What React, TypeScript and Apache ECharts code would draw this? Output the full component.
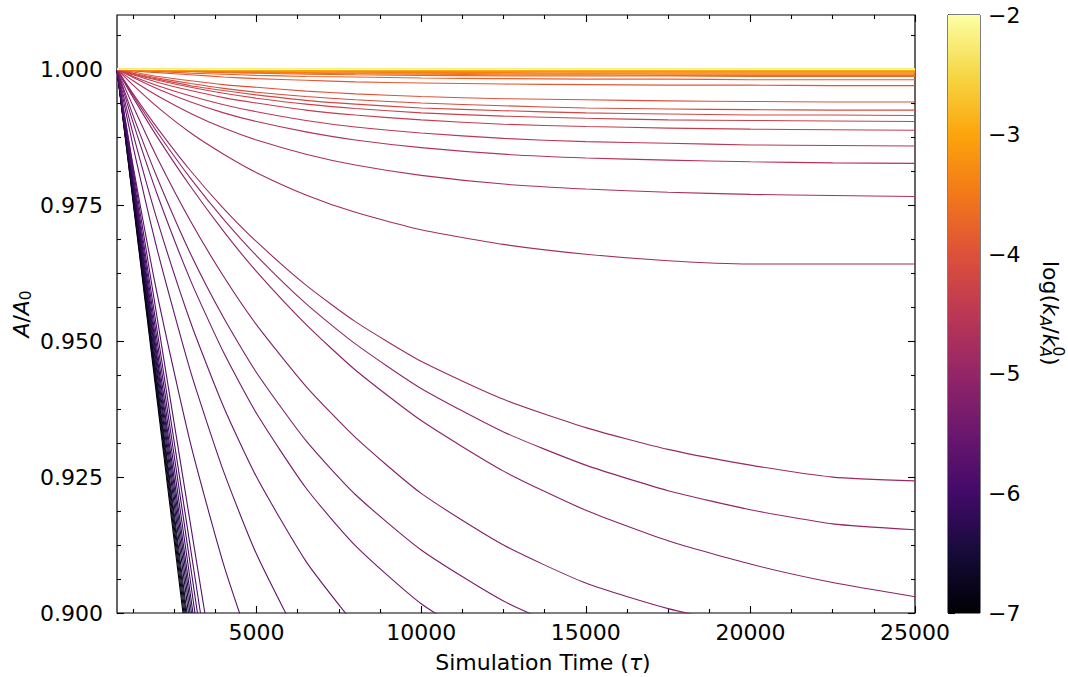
import React, { useEffect, useRef } from "react";
import * as echarts from "echarts";

// ---------------- data ----------------
const X_MIN = 760;
const X_MAX = 25000;
const Y_MIN = 0.9;
const Y_MAX = 1.01;

const timeGrid = [760, 1250, 2000, 3000, 4000, 5000, 6500, 8000, 10000, 12500, 15000, 17500, 20000, 22500, 25000];

// nearly flat curves at the top (orange to yellow)
const bandLogK = [-3.7, -3.6, -3.5, -3.4, -3.3, -3.2, -3.1, -3.0, -2.9, -2.8, -2.7, -2.6, -2.5, -2.4, -2.3, -2.2, -2.1, -2.0];
const bandValues = [
  [1.0, 0.9999, 0.9997, 0.9996, 0.9994, 0.9993, 0.9991, 0.999, 0.9989, 0.9988, 0.9988, 0.9988, 0.9987, 0.9987, 0.9987],
  [1.0, 0.9999, 0.9998, 0.9996, 0.9995, 0.9994, 0.9993, 0.9992, 0.9991, 0.999, 0.999, 0.9989, 0.9989, 0.9989, 0.9989],
  [1.0, 0.9999, 0.9998, 0.9997, 0.9996, 0.9995, 0.9994, 0.9993, 0.9993, 0.9992, 0.9992, 0.9991, 0.9991, 0.9991, 0.9991],
  [1.0, 0.9999, 0.9999, 0.9998, 0.9997, 0.9996, 0.9995, 0.9995, 0.9994, 0.9994, 0.9993, 0.9993, 0.9993, 0.9993, 0.9993],
  [1.0, 1.0, 0.9999, 0.9998, 0.9998, 0.9997, 0.9997, 0.9996, 0.9996, 0.9996, 0.9995, 0.9995, 0.9995, 0.9995, 0.9995],
  [1.0, 1.0, 0.9999, 0.9999, 0.9998, 0.9998, 0.9997, 0.9997, 0.9997, 0.9996, 0.9996, 0.9996, 0.9996, 0.9996, 0.9996],
  [1.0, 1.0, 0.9999, 0.9999, 0.9999, 0.9998, 0.9998, 0.9998, 0.9998, 0.9997, 0.9997, 0.9997, 0.9997, 0.9997, 0.9997],
  [1.0, 1.0, 1.0, 0.9999, 0.9999, 0.9999, 0.9999, 0.9999, 0.9998, 0.9998, 0.9998, 0.9998, 0.9998, 0.9998, 0.9998],
  [1.0, 1.0, 1.0, 1.0, 0.9999, 0.9999, 0.9999, 0.9999, 0.9999, 0.9999, 0.9999, 0.9999, 0.9999, 0.9999, 0.9999],
  [1.0, 1.0, 1.0, 1.0, 1.0, 1.0, 1.0, 1.0, 1.0, 1.0, 1.0, 1.0, 1.0, 1.0, 1.0],
  [1.0, 1.0, 1.0, 1.0, 1.0, 1.0, 1.0, 1.0, 1.0, 1.0, 1.0, 1.0, 1.0, 1.0, 1.0],
  [1.0, 1.0, 1.0, 1.0, 1.0, 1.0, 1.0, 1.0, 1.0, 1.0, 1.0, 1.0, 1.0, 1.0, 1.0],
  [1.0, 1.0, 1.0, 1.0, 1.0, 1.0, 1.0, 1.0, 1.0, 1.0, 1.0, 1.0, 1.0, 1.0, 1.0],
  [1.0, 1.0, 1.0, 1.0, 1.0, 1.0, 1.0, 1.0, 1.0, 1.0, 1.0, 1.0, 1.0, 1.0, 1.0],
  [1.0, 1.0, 1.0, 1.0, 1.0, 1.0, 1.0, 1.0, 1.0, 1.0, 1.0, 1.0, 1.0, 1.0, 1.0],
  [1.0, 1.0, 1.0, 1.0, 1.0, 1.0, 1.0, 1.0, 1.0, 1.0, 1.0, 1.0, 1.0, 1.0, 1.0],
  [1.0, 1.0, 1.0, 1.0, 1.0, 1.0, 1.0, 1.0, 1.0, 1.0, 1.0, 1.0, 1.0, 1.0, 1.0],
  [1.0, 1.0, 1.0, 1.0, 1.0, 1.0, 1.0, 1.0, 1.0, 1.0, 1.0, 1.0, 1.0, 1.0, 1.0],
];

// red / orange curves that level off
const upperLogK = [-3.8, -3.9, -4.0, -4.1, -4.2, -4.3, -4.4, -4.5, -4.6, -4.7, -4.8];
const upperValues = [
  [1.0, 0.9998, 0.9996, 0.9993, 0.9991, 0.9989, 0.9987, 0.9986, 0.9984, 0.9983, 0.9982, 0.9982, 0.9981, 0.9981, 0.9981],
  [1.0, 0.9997, 0.9994, 0.999, 0.9986, 0.9983, 0.998, 0.9977, 0.9975, 0.9973, 0.9972, 0.9971, 0.9971, 0.997, 0.997],
  [1.0, 0.9995, 0.9987, 0.9979, 0.9972, 0.9967, 0.996, 0.9955, 0.995, 0.9946, 0.9944, 0.9942, 0.9941, 0.994, 0.994],
  [1.0, 0.9993, 0.9984, 0.9974, 0.9965, 0.9958, 0.995, 0.9944, 0.9938, 0.9933, 0.9929, 0.9927, 0.9926, 0.9925, 0.9925],
  [1.0, 0.9992, 0.9982, 0.997, 0.9961, 0.9953, 0.9943, 0.9936, 0.9929, 0.9924, 0.992, 0.9918, 0.9916, 0.9916, 0.9915],
  [1.0, 0.9991, 0.998, 0.9967, 0.9956, 0.9947, 0.9936, 0.9928, 0.992, 0.9914, 0.991, 0.9907, 0.9906, 0.9905, 0.9904],
  [1.0, 0.999, 0.9976, 0.9961, 0.9948, 0.9938, 0.9925, 0.9916, 0.9907, 0.9899, 0.9895, 0.9892, 0.989, 0.9889, 0.9888],
  [1.0, 0.9987, 0.997, 0.9951, 0.9935, 0.9922, 0.9906, 0.9894, 0.9883, 0.9873, 0.9867, 0.9864, 0.9861, 0.986, 0.9859],
  [1.0, 0.9985, 0.9964, 0.994, 0.992, 0.9904, 0.9885, 0.987, 0.9856, 0.9844, 0.9837, 0.9833, 0.983, 0.9828, 0.9827],
  [1.0, 0.9979, 0.9951, 0.9919, 0.9892, 0.987, 0.9844, 0.9824, 0.9805, 0.9789, 0.978, 0.9774, 0.977, 0.9768, 0.9766],
  [1.0, 0.9971, 0.993, 0.9883, 0.9844, 0.981, 0.9769, 0.9737, 0.9705, 0.9678, 0.966, 0.9648, 0.9642, 0.9642, 0.9642],
];

// magenta curves that reach the right edge below 0.93
const lowerLogK = [-4.9, -5.0, -5.1];
const lowerValues = [
  [1.0, 0.9955, 0.9891, 0.9813, 0.9744, 0.9683, 0.9603, 0.9536, 0.9463, 0.9393, 0.9341, 0.9301, 0.9272, 0.925, 0.9243],
  [1.0, 0.9952, 0.9883, 0.9799, 0.9724, 0.9657, 0.9569, 0.9495, 0.9413, 0.9333, 0.9272, 0.9225, 0.919, 0.9164, 0.9153],
  [1.0, 0.9948, 0.9874, 0.9784, 0.9702, 0.9628, 0.9531, 0.9447, 0.9354, 0.9261, 0.9189, 0.9133, 0.909, 0.9056, 0.903],
];

// purple curves that leave through the bottom edge
const fallingLogK = [-5.2, -5.3, -5.4, -5.5, -5.6, -5.7];
const fallingValues = [
  [1.0, 0.9932, 0.9835, 0.972, 0.9619, 0.953, 0.9417, 0.9323, 0.922, 0.9125, 0.9055, 0.9008, 0.8975],
  [1.0, 0.9915, 0.9798, 0.966, 0.9543, 0.9442, 0.9317, 0.9218, 0.9116, 0.9022, 0.8955],
  [1.0, 0.9902, 0.9767, 0.9611, 0.9479, 0.9367, 0.923, 0.9124, 0.9017, 0.8924],
  [1.0, 0.9881, 0.9719, 0.9534, 0.9379, 0.925, 0.9095, 0.8977],
  [1.0, 0.9858, 0.9664, 0.9443, 0.926, 0.9108, 0.8927],
  [1.0, 0.9822, 0.9581, 0.931, 0.9089, 0.8908],
];

// dark, nearly straight curves: start (760, 1.0), reach 0.9 at these times
const clusterLogK = [-5.8, -5.9, -6.0, -6.1, -6.2, -6.3, -6.4, -6.5, -6.6, -6.7, -6.8, -6.9, -7.0];
const clusterExitTime = [3428, 3295, 3204, 3128, 3067, 3022, 2976, 2931, 2885, 2855, 2825, 2794, 2764];
const clusterStart = [760, 1.0];
const clusterEndValue = 0.9;

// ticks
const xMajorTicks = [5000, 10000, 15000, 20000, 25000];
const xMinorTicks = [1250, 2500, 3750, 6250, 7500, 8750, 11250, 12500, 13750, 16250, 17500, 18750, 21250, 22500, 23750];
const yMajorTicks = [0.9, 0.925, 0.95, 0.975, 1.0];
const yMinorTicks = [0.90625, 0.9125, 0.91875, 0.93125, 0.9375, 0.94375, 0.95625, 0.9625, 0.96875, 0.98125, 0.9875, 0.99375, 1.00625];
const LOGK_MIN = -7;
const LOGK_MAX = -2;

// ---------------- colour map ----------------
const INFERNO = [
  "#000004", "#160b39", "#420a68", "#6a176e", "#932667", "#bc3754",
  "#dd513a", "#f37819", "#fca50a", "#f6d746", "#fcffa4",
];
function hexToRgb(h: string) {
  return [parseInt(h.slice(1, 3), 16), parseInt(h.slice(3, 5), 16), parseInt(h.slice(5, 7), 16)];
}
function inferno(t: number): string {
  const x = Math.min(1, Math.max(0, t)) * (INFERNO.length - 1);
  const i = Math.min(INFERNO.length - 2, Math.floor(x));
  const f = x - i;
  const a = hexToRgb(INFERNO[i]);
  const b = hexToRgb(INFERNO[i + 1]);
  const c = a.map((v, k) => Math.round(v + (b[k] - v) * f));
  return `rgb(${c[0]},${c[1]},${c[2]})`;
}
const colorFor = (k: number) => inferno((k - LOGK_MIN) / (LOGK_MAX - LOGK_MIN));

const FONT = "DejaVu Sans";
const minus = (v: number) => (v < 0 ? "\u2212" + Math.abs(v) : String(v));

function lineSeries(k: number, data: number[][]) {
  return {
    type: "line",
    xAxisIndex: 0,
    yAxisIndex: 0,
    data,
    symbol: "none",
    showSymbol: false,
    smooth: 0.2,
    clip: true,
    silent: true,
    lineStyle: { color: colorFor(k), width: 1.1 },
    z: 2,
  };
}

function buildSeries() {
  const items: { k: number; s: any }[] = [];
  const addGrid = (ks: number[], rows: number[][]) =>
    rows.forEach((row, i) =>
      items.push({ k: ks[i], s: lineSeries(ks[i], row.map((v, j) => [timeGrid[j], v])) })
    );
  addGrid(bandLogK, bandValues);
  addGrid(upperLogK, upperValues);
  addGrid(lowerLogK, lowerValues);
  addGrid(fallingLogK, fallingValues);
  clusterLogK.forEach((k, i) =>
    items.push({ k, s: lineSeries(k, [clusterStart, [clusterExitTime[i], clusterEndValue]]) })
  );
  items.sort((a, b) => a.k - b.k);
  return items.map((it) => it.s);
}

function makeOption() {
  const tickStyle = { color: "#000", width: 1.1 };
  const labelStyle = { fontFamily: FONT, fontSize: 22, color: "#000" };
  const xAx = (position: string, ticks: number[], len: number, labels: boolean) => ({
    gridIndex: 0,
    type: "value",
    min: X_MIN,
    max: X_MAX,
    position,
    axisLine: { show: false },
    splitLine: { show: false },
    axisTick: { show: true, inside: true, length: len, customValues: ticks, lineStyle: tickStyle },
    axisLabel: labels
      ? { show: true, customValues: ticks, margin: 8, ...labelStyle, formatter: (v: number) => String(v) }
      : { show: false },
  });
  const yAx = (position: string, ticks: number[], len: number, labels: boolean) => ({
    gridIndex: 0,
    type: "value",
    min: Y_MIN,
    max: Y_MAX,
    position,
    axisLine: { show: false },
    splitLine: { show: false },
    axisTick: { show: true, inside: true, length: len, customValues: ticks, lineStyle: tickStyle },
    axisLabel: labels
      ? { show: true, customValues: ticks, margin: 14, ...labelStyle, formatter: (v: number) => v.toFixed(3) }
      : { show: false },
  });

  const gradientStops = INFERNO.map((c, i) => ({ offset: i / (INFERNO.length - 1), color: c }));

  const series: any[] = buildSeries();
  series.push({
    type: "custom",
    xAxisIndex: 4,
    yAxisIndex: 4,
    silent: true,
    data: [[0, LOGK_MIN]],
    renderItem: (_p: any, api: any) => {
      const p0 = api.coord([0, LOGK_MAX]);
      const p1 = api.coord([1, LOGK_MIN]);
      return {
        type: "rect",
        shape: { x: p0[0], y: p0[1], width: p1[0] - p0[0], height: p1[1] - p0[1] },
        style: { fill: new echarts.graphic.LinearGradient(0, 1, 0, 0, gradientStops) },
      };
    },
  });

  const it = (t: string, x: number, y: number, size = 22, italic = false) => ({
    type: "text",
    x,
    y,
    style: {
      text: t,
      fontFamily: FONT,
      fontSize: size,
      fontStyle: italic ? "italic" : "normal",
      fill: "#000",
      textAlign: "left",
      textVerticalAlign: "middle",
    },
  });

  return {
    animation: false,
    backgroundColor: "#ffffff",
    grid: [
      { left: 117, top: 15, width: 798, height: 598, show: true, borderColor: "#000", borderWidth: 1.2, backgroundColor: "transparent" },
      { left: 948, top: 15, width: 32, height: 598, show: true, borderColor: "#000", borderWidth: 1, backgroundColor: "transparent" },
    ],
    xAxis: [
      xAx("bottom", xMajorTicks, 7, true),
      xAx("bottom", xMinorTicks, 4, false),
      xAx("top", xMajorTicks, 7, false),
      xAx("top", xMinorTicks, 4, false),
      { gridIndex: 1, type: "value", min: 0, max: 1, show: false },
    ],
    yAxis: [
      yAx("left", yMajorTicks, 7, true),
      yAx("left", yMinorTicks, 4, false),
      yAx("right", yMajorTicks, 7, false),
      yAx("right", yMinorTicks, 4, false),
      {
        gridIndex: 1,
        type: "value",
        min: LOGK_MIN,
        max: LOGK_MAX,
        interval: 1,
        position: "right",
        axisLine: { show: true, lineStyle: { color: "#000", width: 1 } },
        splitLine: { show: false },
        axisTick: { show: true, inside: false, length: 7, lineStyle: tickStyle },
        axisLabel: { show: true, margin: 8, ...labelStyle, formatter: (v: number) => minus(v) },
      },
    ],
    series,
    graphic: [
      {
        type: "text",
        x: 543,
        y: 662,
        style: {
          text: "Simulation Time ({t|\u03c4})",
          fontFamily: FONT,
          fontSize: 22,
          fill: "#000",
          textAlign: "center",
          textVerticalAlign: "middle",
          rich: { t: { fontFamily: FONT, fontSize: 22, fontStyle: "italic", fill: "#000" } },
        },
      },
      {
        type: "group",
        x: 21,
        y: 314,
        rotation: Math.PI / 2,
        children: [
          it("A", -23.6, 0, 22, true),
          it("/", -8.6, 0),
          it("A", -1.2, 0, 22, true),
          it("0", 13.8, 5, 15.4),
        ],
      },
      {
        type: "group",
        x: 1050,
        y: 313,
        rotation: -Math.PI / 2,
        children: [
          it("log(", -52, 0),
          it("k", -9.9, 0, 22, true),
          it("A", 2.8, 5, 15.4, true),
          it("/", 13.3, 0),
          it("k", 20.7, 0, 22, true),
          it("A", 33.4, 5, 15.4, true),
          it("0", 33.6, -8, 15.4),
          it(")", 43.9, 0),
        ],
      },
    ],
  };
}

export default function App() {
  const ref = useRef<HTMLDivElement>(null);
  useEffect(() => {
    if (!ref.current) return;
    const chart = echarts.init(ref.current, undefined, { renderer: "svg" });
    chart.setOption(makeOption() as any);
    return () => chart.dispose();
  }, []);
  return (
    <div
      ref={ref}
      style={{ position: "absolute", left: 0, top: 0, width: 1068, height: 677, background: "#fff" }}
    />
  );
}
